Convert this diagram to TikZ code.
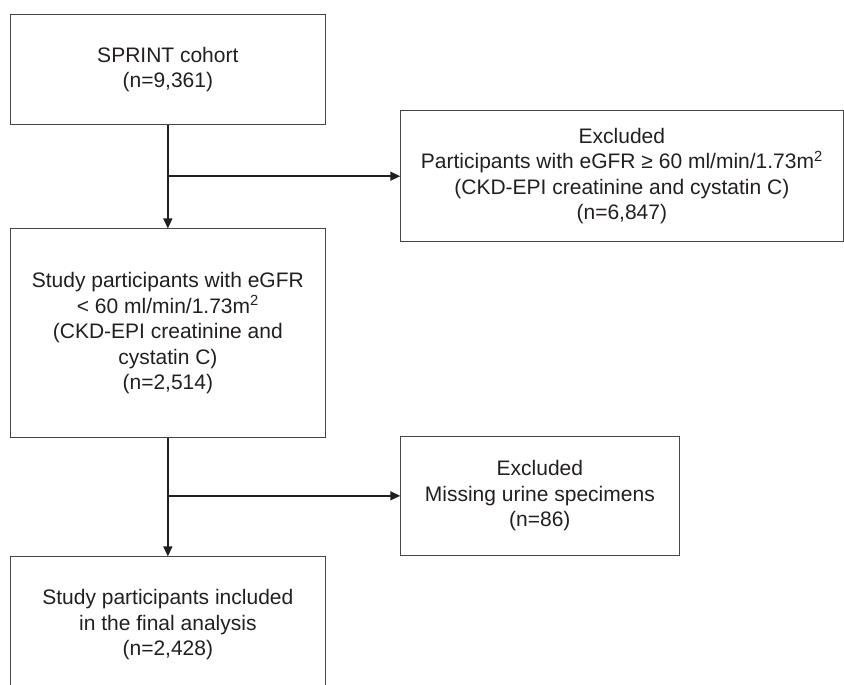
\documentclass[tikz,border=0pt]{standalone}
\usepackage{fontspec}
\setmainfont{Liberation Sans}
\usetikzlibrary{arrows.meta,positioning}
\definecolor{boxline}{RGB}{70,70,70}
\definecolor{inkgray}{RGB}{35,31,32}

\begin{document}
\begin{tikzpicture}[x=1pt, y=1pt,
  font=\fontsize{21}{25.5}\selectfont, text=inkgray,
  bx/.style={draw=boxline, line width=0.9pt, align=center,
             inner sep=0pt, minimum width=314.3pt},
  arr/.style={-{Triangle[length=10pt,width=9pt]}, line width=1.6pt, draw=inkgray}
]
\useasboundingbox (0,0) rectangle (844,-685);
% main column
\node[bx, minimum height=110pt] (cohort) at (167.85,-69.7)
  {SPRINT cohort\\(n=9,361)};
\node[bx, minimum height=208.7pt, below=103.3pt of cohort] (ckd)
  {Study participants with eGFR\\
   {<} 60 ml/min/1.73m\textsuperscript{2}\\
   (CKD-EPI creatinine and\\
   cystatin C)\\
   (n=2,514)};
\node[bx, minimum height=136pt, below=118.3pt of ckd] (final)
  {Study participants included\\in the final analysis\\(n=2,428)};
% exclusions
\node[bx, minimum width=442.3pt, minimum height=131pt] (excl1) at (621.85,-176.2)
  {Excluded\\
   Participants with eGFR ≥ 60 ml/min/1.73m\textsuperscript{2}\\
   (CKD-EPI creatinine and cystatin C)\\
   (n=6,847)};
\node[bx, minimum width=278.3pt, minimum height=118.3pt] (excl2) at (539.85,-495.85)
  {Excluded\\Missing urine specimens\\(n=86)};
\draw[arr] (cohort.south) -- (ckd.north);
\draw[arr] (cohort.south |- excl1.west) -- (excl1.west);
\draw[arr] (ckd.south) -- (final.north);
\draw[arr] (ckd.south |- excl2.west) -- (excl2.west);
\end{tikzpicture}
\end{document}
